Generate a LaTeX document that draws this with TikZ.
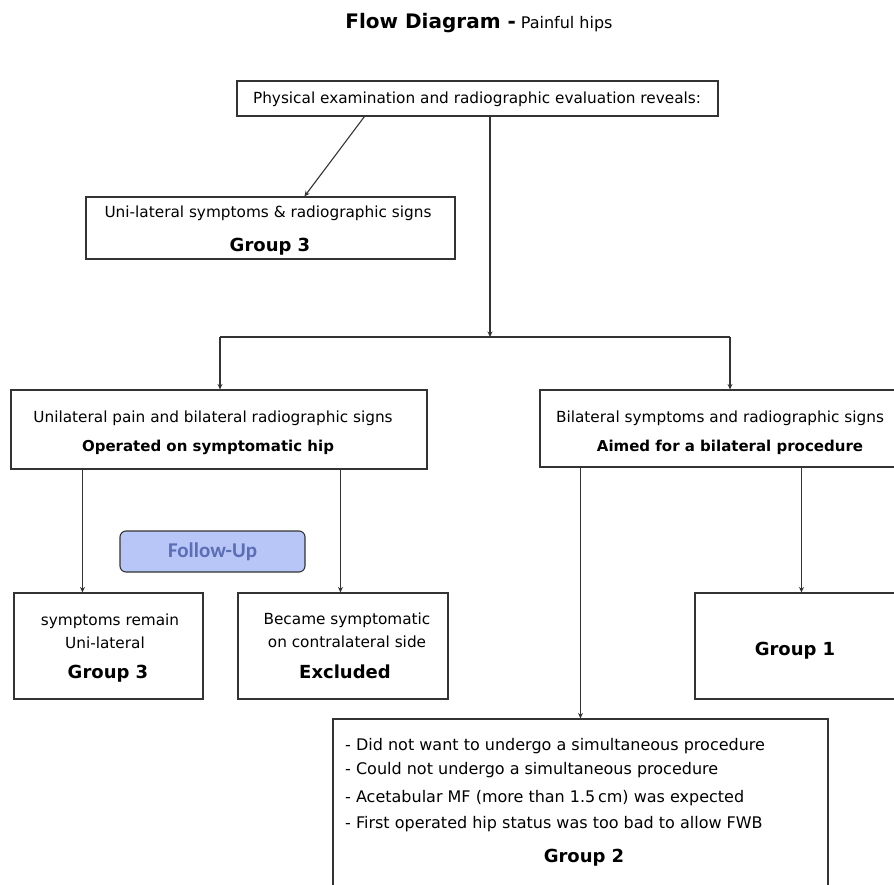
\documentclass[tikz,border=0pt]{standalone}
\usepackage{fontspec}
\setmainfont{DejaVu Sans}
\newfontfamily\fufont{Carlito}
\usetikzlibrary{arrows.meta}
\definecolor{linegray}{HTML}{333333}
\definecolor{fufill}{HTML}{B8C6F7}
\definecolor{futext}{HTML}{5A6DB5}
\tikzset{
  box/.style={draw=linegray, line width=1.1pt, inner sep=0pt},
  link/.style={draw=linegray, line width=1.1pt, -{Stealth[length=5.5pt,width=5pt]}},
  txt/.style={anchor=base, inner sep=0pt, font=\fontsize{15.3}{18}\selectfont},
  hd/.style={anchor=base, inner sep=0pt, font=\bfseries\fontsize{15}{18}\selectfont},
  grp/.style={anchor=base, inner sep=0pt, font=\bfseries\fontsize{18}{21}\selectfont}
}
\begin{document}
\begin{tikzpicture}[x=1pt,y=-1pt]
  \useasboundingbox (0,0) rectangle (894,885);
  \clip (0,0) rectangle (894,885);

  \node[anchor=base, inner sep=0pt] (title) at (479,29)
    {{\bfseries\fontsize{20}{24}\selectfont Flow Diagram -}\hspace{0.5em}{\fontsize{16}{19}\selectfont Painful hips}};

  \node[box, minimum width=481pt, minimum height=35pt] (exam) at (477.5,98.5) {};
  \node[txt] (examtxt) at (477,104) {Physical examination and radiographic evaluation reveals:};

  \node[box, minimum width=369pt, minimum height=62pt] (unisym) at (270.5,228) {};
  \node[txt] (unisymtxt) at (268,218) {Uni-lateral symptoms \& radiographic signs};
  \node[grp] (unisymgrp) at (270,252) {Group 3};

  \node[box, minimum width=416pt, minimum height=79pt] (unipain) at (219,429.5) {};
  \node[txt] (unipaintxt) at (213,422) {Unilateral pain and bilateral radiographic signs};
  \node[hd] (unipainhd) at (208,451) {Operated on symptomatic hip};

  \node[box, minimum width=360pt, minimum height=77pt] (bilat) at (720,428.5) {};
  \node[txt] (bilattxt) at (720,422) {Bilateral symptoms and radiographic signs};
  \node[hd] (bilathd) at (730,451) {Aimed for a bilateral procedure};

  \node[draw=linegray, line width=1.1pt, fill=fufill, rounded corners=6pt,
        minimum width=185pt, minimum height=41pt, text=futext,
        font=\fufont\bfseries\fontsize{21}{24}\selectfont] (followup) at (212.5,551.5) {Follow-Up};

  \node[box, minimum width=189pt, minimum height=106pt] (remain) at (108.5,646) {};
  \node[txt] (remaintxt) at (110,625) {symptoms remain};
  \node[txt] (remaintxtb) at (105,648) {Uni-lateral};
  \node[grp] (remaingrp) at (108,678) {Group 3};

  \node[box, minimum width=210pt, minimum height=106pt] (contra) at (343,646) {};
  \node[txt] (contratxt) at (347,624) {Became symptomatic};
  \node[txt] (contratxtb) at (347,647) {on contralateral side};
  \node[grp] (contragrp) at (345,678) {Excluded};

  \node[box, minimum width=205pt, minimum height=106pt] (grpone) at (797.5,646) {};
  \node[grp] (grponetxt) at (795,655) {Group 1};

  \node[box, minimum width=495pt, minimum height=181pt] (grptwo) at (580.5,809.5) {};
  \node[txt, anchor=base west, font=\fontsize{16}{19}\selectfont] (whya) at (345,750) {- Did not want to undergo a simultaneous procedure};
  \node[txt, anchor=base west, font=\fontsize{16}{19}\selectfont] (whyb) at (345,774) {- Could not undergo a simultaneous procedure};
  \node[txt, anchor=base west, font=\fontsize{16}{19}\selectfont] (whyc) at (345,802) {- Acetabular MF (more than 1.5\,cm) was expected};
  \node[txt, anchor=base west, font=\fontsize{16}{19}\selectfont] (whyd) at (345,828) {- First operated hip status was too bad to allow FWB};
  \node[grp] (grptwotxt) at (584,862) {Group 2};

  \coordinate (split) at (490,337);
  \coordinate (splitl) at (220,337);
  \coordinate (splitr) at (730,337);
  \coordinate (ul) at ([xshift=72pt]unipain.south west);
  \coordinate (ur) at ([xshift=330pt]unipain.south west);
  \coordinate (bl) at ([xshift=41pt]bilat.south west);
  \coordinate (br) at ([xshift=262pt]bilat.south west);

  \draw[link] ([xshift=128pt]exam.south west) -- ([xshift=219pt]unisym.north west);
  \draw[link] (exam.south -| split) -- (split);
  \draw[draw=linegray, line width=1.1pt] (splitl) -- (splitr);
  \draw[link] (splitl) -- (splitl |- unipain.north);
  \draw[link] (splitr) -- (splitr |- bilat.north);
  \draw[link] (ul) -- (ul |- remain.north);
  \draw[link] (ur) -- (ur |- contra.north);
  \draw[link] (bl) -- (bl |- grptwo.north);
  \draw[link] (br) -- (br |- grpone.north);
\end{tikzpicture}
\end{document}
